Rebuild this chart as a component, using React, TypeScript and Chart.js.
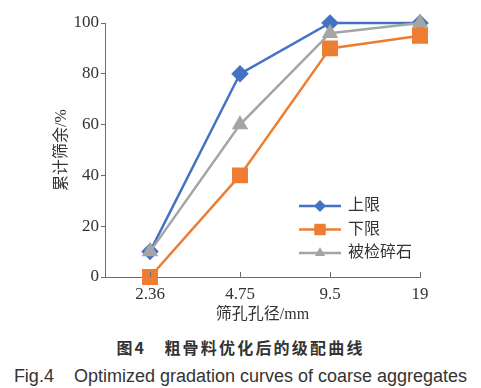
import React, { useEffect, useRef } from "react";
import { Chart, registerables } from "chart.js";

Chart.register(...registerables);

const categories = ["2.36", "4.75", "9.5", "19"];
const upperLimit = [10, 80, 100, 100];
const lowerLimit = [0, 40, 90, 95];
const tested = [10, 60, 96, 100];
const yTicks = [0, 20, 40, 60, 80, 100];
const seriesNames = ["上限", "下限", "被检碎石"];

const BLUE = "#4472C4";
const ORANGE = "#ED7D31";
const GRAY = "#A5A5A5";
const AXIS = "#6b6b6b";

const toPoints = (arr: number[]) => arr.map((v, i) => ({ x: i, y: v }));

const innerTicksPlugin = {
  id: "innerTicks",
  afterDraw(chart: any) {
    const { ctx } = chart;
    const xs = chart.scales.x;
    const bottom = chart.chartArea.bottom;
    ctx.save();
    ctx.strokeStyle = AXIS;
    ctx.lineWidth = 1;
    xs.ticks.forEach((t: any) => {
      const px = Math.round(xs.getPixelForValue(t.value)) + 0.5;
      ctx.beginPath();
      ctx.moveTo(px, bottom);
      ctx.lineTo(px, bottom - 5);
      ctx.stroke();
    });
    ctx.restore();
  },
};

function drawMarker(ctx: CanvasRenderingContext2D, style: string, r: number, x: number, y: number) {
  ctx.beginPath();
  if (style === "rectRot") {
    ctx.moveTo(x, y - r);
    ctx.lineTo(x + r, y);
    ctx.lineTo(x, y + r);
    ctx.lineTo(x - r, y);
    ctx.closePath();
  } else if (style === "rect") {
    const s = r * Math.SQRT1_2;
    ctx.rect(x - s, y - s, 2 * s, 2 * s);
  } else {
    const h = r;
    ctx.moveTo(x, y - h);
    ctx.lineTo(x + h * 0.866, y + h * 0.5);
    ctx.lineTo(x - h * 0.866, y + h * 0.5);
    ctx.closePath();
  }
  ctx.fill();
}

const legendPlugin = {
  id: "customLegend",
  afterDatasetsDraw(chart: any) {
    const { ctx } = chart;
    const x0 = 299;
    const x1 = 341;
    const textX = 348;
    const y0 = 206;
    const step = 23.5;
    ctx.save();
    chart.data.datasets.forEach((ds: any, i: number) => {
      const y = y0 + i * step;
      ctx.strokeStyle = ds.borderColor;
      ctx.lineWidth = ds.borderWidth;
      ctx.beginPath();
      ctx.moveTo(x0, y);
      ctx.lineTo(x1, y);
      ctx.stroke();
      ctx.fillStyle = ds.pointBackgroundColor;
      drawMarker(ctx, ds.pointStyle, ds.pointRadius * 0.85, (x0 + x1) / 2, y);
      ctx.fillStyle = "#333";
      ctx.font = '16px "Liberation Serif", "Noto Sans CJK SC"';
      ctx.textBaseline = "middle";
      ctx.textAlign = "left";
      ctx.fillText(ds.label, textX, y);
    });
    ctx.restore();
  },
};

function ChartView() {
  const ref = useRef<HTMLCanvasElement | null>(null);
  useEffect(() => {
    if (!ref.current) return;
    const chart = new Chart(ref.current, {
      type: "line",
      data: {
        datasets: [
          {
            label: seriesNames[0],
            data: toPoints(upperLimit),
            borderColor: BLUE,
            backgroundColor: BLUE,
            pointBackgroundColor: BLUE,
            pointBorderColor: BLUE,
            pointStyle: "rectRot",
            pointRadius: 7,
            borderWidth: 2.5,
            clip: false,
            order: 2,
          },
          {
            label: seriesNames[1],
            data: toPoints(lowerLimit),
            borderColor: ORANGE,
            backgroundColor: ORANGE,
            pointBackgroundColor: ORANGE,
            pointBorderColor: ORANGE,
            pointStyle: "rect",
            pointRadius: 9.5,
            borderWidth: 2.5,
            clip: false,
            order: 1,
          },
          {
            label: seriesNames[2],
            data: toPoints(tested),
            borderColor: GRAY,
            backgroundColor: GRAY,
            pointBackgroundColor: GRAY,
            pointBorderColor: GRAY,
            pointStyle: "triangle",
            pointRadius: 7,
            borderWidth: 2.5,
            clip: false,
            order: 0,
          },
        ] as any,
      },
      options: {
        animation: false,
        responsive: false,
        maintainAspectRatio: false,
        layout: { padding: { top: 23, right: 61, left: 0, bottom: 0 } },
        plugins: {
          legend: { display: false },
          tooltip: { enabled: false },
        },
        scales: {
          x: {
            type: "linear",
            min: -0.5,
            max: 3,
            afterBuildTicks: (s: any) => {
              s.ticks = categories.map((_, i) => ({ value: i }));
            },
            afterFit: (s: any) => {
              s.height = 53;
            },
            grid: { display: true, drawOnChartArea: false, drawTicks: false, color: AXIS },
            border: { display: true, color: AXIS, width: 1 },
            ticks: {
              padding: 7,
              color: "#333",
              font: { family: '"Liberation Serif"', size: 17 },
              callback: (v: any) => categories[v] ?? "",
            },
            title: {
              display: true,
              text: "筛孔孔径/mm",
              color: "#333",
              font: { family: '"Liberation Serif", "Noto Sans CJK SC"', size: 16 },
              padding: { top: 0, bottom: 6 },
            },
          },
          y: {
            min: 0,
            max: 100,
            afterBuildTicks: (s: any) => {
              s.ticks = yTicks.map((v) => ({ value: v }));
            },
            afterFit: (s: any) => {
              s.width = 105;
            },
            grid: { display: true, drawOnChartArea: false, drawTicks: true, tickLength: 4, color: AXIS },
            border: { display: true, color: AXIS, width: 1 },
            ticks: {
              padding: 2,
              color: "#333",
              font: { family: '"Liberation Serif"', size: 17 },
            },
            title: {
              display: true,
              text: "累计筛余/%",
              color: "#333",
              font: { family: '"Liberation Serif", "Noto Sans CJK SC"', size: 16 },
              padding: { top: 52, bottom: 0 },
            },
          },
        },
      } as any,
      plugins: [innerTicksPlugin, legendPlugin],
    });
    return () => chart.destroy();
  }, []);
  return <canvas ref={ref} width={481} height={330} style={{ position: "absolute", left: 0, top: 0 }} />;
}

export default function App() {
  return (
    <div style={{ position: "absolute", left: 0, top: 0, width: 481, height: 388, background: "#fff", overflow: "hidden" }}>
      <ChartView />
      <div
        style={{
          position: "absolute",
          left: 0,
          width: 481,
          top: 336,
          textAlign: "center",
          fontFamily: '"Noto Sans CJK SC"',
          fontWeight: 700,
          fontSize: 16,
          color: "#333",
          letterSpacing: 2.2,
          whiteSpace: "pre",
          lineHeight: "22px",
        }}
      >
        {"图4　粗骨料优化后的级配曲线"}
      </div>
      <div
        style={{
          position: "absolute",
          left: 0,
          width: 481,
          top: 365,
          textAlign: "center",
          fontFamily: '"Liberation Sans", Arial',
          fontSize: 18,
          color: "#333",
          whiteSpace: "pre",
          lineHeight: "22px",
        }}
      >
        {"Fig.4    Optimized gradation curves of coarse aggregates"}
      </div>
    </div>
  );
}
